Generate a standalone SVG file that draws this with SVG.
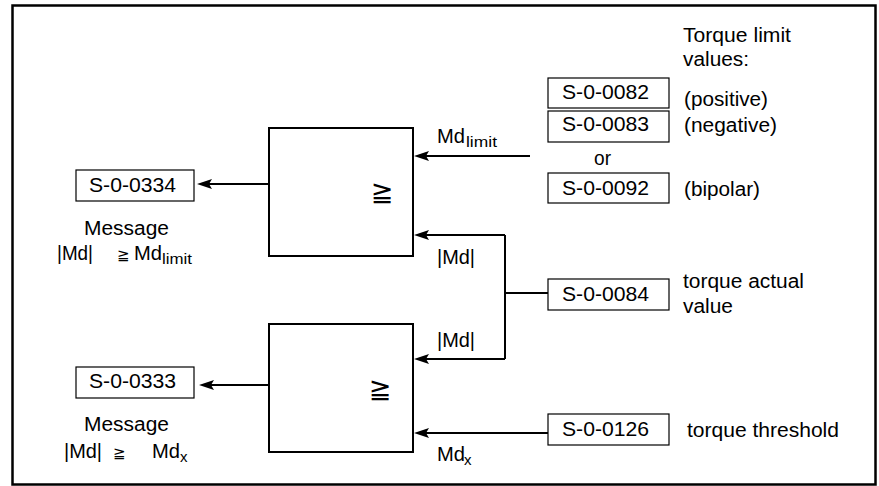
<svg xmlns="http://www.w3.org/2000/svg" width="879" height="486" viewBox="0 0 879 486">
<style>
text{font-family:"Liberation Sans",Arial,sans-serif;font-size:20px;fill:#000}
.sub{font-size:15px}
.sym{font-family:"DejaVu Sans",sans-serif;font-size:15px}
.bsym{font-family:"DejaVu Sans",sans-serif;font-size:27px}
.blk{fill:#fff;stroke:#000;stroke-width:2}
.box{fill:#fff;stroke:#000;stroke-width:1.2}
.ln{fill:none;stroke:#000;stroke-width:2}
.ar{marker-end:url(#ah)}
</style>
<defs>
<marker id="ah" viewBox="-16 -6 17 12" refX="-3" refY="0" markerWidth="17" markerHeight="12" markerUnits="userSpaceOnUse" orient="auto">
<path d="M0,0 L-15,-5 L-12,0 L-15,5 Z" fill="#000"/>
</marker>
</defs>
<rect x="12.5" y="5.5" width="863" height="479" fill="#fff" stroke="#000" stroke-width="2.5"/>
<g id="connectors">
<path class="ln ar" d="M530,156 H417"/>
<path class="ln" d="M505,235 V359 M505,293 H548"/>
<path class="ln ar" d="M505,235 H417"/>
<path class="ln ar" d="M505,359 H417"/>
<path class="ln ar" d="M548,433 H417"/>
<path class="ln ar" d="M269,184 H200"/>
<path class="ln ar" d="M269,385 H202"/>
</g>
<g id="cmp1">
<rect class="blk" x="269" y="128" width="144" height="128"/>
<text class="bsym" x="382" y="201" text-anchor="middle">≧</text>
</g>
<g id="cmp2">
<rect class="blk" x="269" y="324" width="144" height="128"/>
<text class="bsym" x="380" y="398" text-anchor="middle">≧</text>
</g>
<g id="s0082">
<rect class="box" x="548" y="78" width="121" height="30"/>
<text x="562" y="99" textLength="87" lengthAdjust="spacingAndGlyphs">S-0-0082</text>
</g>
<g id="s0083">
<rect class="box" x="548" y="111" width="121" height="31"/>
<text x="562" y="131" textLength="87" lengthAdjust="spacingAndGlyphs">S-0-0083</text>
</g>
<g id="s0092">
<rect class="box" x="548" y="173" width="121" height="30"/>
<text x="562" y="195" textLength="87" lengthAdjust="spacingAndGlyphs">S-0-0092</text>
</g>
<g id="s0084">
<rect class="box" x="548" y="279" width="121" height="31"/>
<text x="562" y="301" textLength="87" lengthAdjust="spacingAndGlyphs">S-0-0084</text>
</g>
<g id="s0126">
<rect class="box" x="548" y="414" width="121" height="31"/>
<text x="562" y="436" textLength="87" lengthAdjust="spacingAndGlyphs">S-0-0126</text>
</g>
<g id="s0334">
<rect class="box" x="76" y="170" width="118" height="31"/>
<text x="89" y="192" textLength="87" lengthAdjust="spacingAndGlyphs">S-0-0334</text>
</g>
<g id="s0333">
<rect class="box" x="76" y="367" width="118" height="31"/>
<text x="89" y="388" textLength="87" lengthAdjust="spacingAndGlyphs">S-0-0333</text>
</g>
<g id="labels">
<text x="683" y="42" textLength="108" lengthAdjust="spacingAndGlyphs">Torque limit</text>
<text x="683" y="66" textLength="66" lengthAdjust="spacingAndGlyphs">values:</text>
<text x="684" y="106" textLength="84" lengthAdjust="spacingAndGlyphs">(positive)</text>
<text x="684" y="132" textLength="93" lengthAdjust="spacingAndGlyphs">(negative)</text>
<text x="594" y="165" textLength="17" lengthAdjust="spacingAndGlyphs">or</text>
<text x="684" y="196" textLength="76" lengthAdjust="spacingAndGlyphs">(bipolar)</text>
<text x="683" y="288" textLength="121" lengthAdjust="spacingAndGlyphs">torque actual</text>
<text x="683" y="313" textLength="50" lengthAdjust="spacingAndGlyphs">value</text>
<text x="687" y="437" textLength="152" lengthAdjust="spacingAndGlyphs">torque threshold</text>
<text x="437" y="143" textLength="28" lengthAdjust="spacingAndGlyphs">Md</text>
<text class="sub" x="466" y="147" textLength="31" lengthAdjust="spacingAndGlyphs">limit</text>
<text x="437" y="264" textLength="38" lengthAdjust="spacingAndGlyphs">|Md|</text>
<text x="437" y="347" textLength="38" lengthAdjust="spacingAndGlyphs">|Md|</text>
<text x="437" y="461" textLength="28" lengthAdjust="spacingAndGlyphs">Md</text>
<text class="sub" x="464" y="465">x</text>
<text x="84" y="235" textLength="85" lengthAdjust="spacingAndGlyphs">Message</text>
<text x="57" y="260" textLength="36" lengthAdjust="spacingAndGlyphs">|Md|</text>
<text class="sym" x="117" y="260">≧</text>
<text x="134" y="260" textLength="28" lengthAdjust="spacingAndGlyphs">Md</text>
<text class="sub" x="162" y="264" textLength="30" lengthAdjust="spacingAndGlyphs">limit</text>
<text x="84" y="431" textLength="85" lengthAdjust="spacingAndGlyphs">Message</text>
<text x="64" y="458" textLength="38" lengthAdjust="spacingAndGlyphs">|Md|</text>
<text class="sym" x="113" y="458">≧</text>
<text x="152" y="458" textLength="28" lengthAdjust="spacingAndGlyphs">Md</text>
<text class="sub" x="180" y="462">x</text>
</g>
</svg>
